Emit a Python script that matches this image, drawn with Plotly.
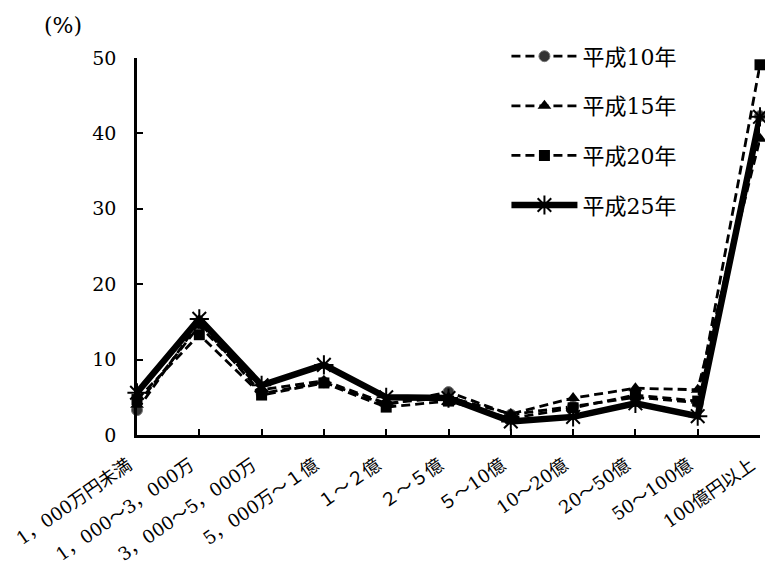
import plotly.graph_objects as go

# 資本金規模別の構成比（％）
categories = [
    "1，000万円未満", "1，000～3，000万", "3，000～5，000万", "5，000万～１億",
    "１～２億", "２～５億", "５～10億", "10～20億", "20～50億", "50～100億", "100億円以上",
]
h10 = [3.3, 15.0, 5.5, 7.0, 4.0, 5.7, 2.7, 3.8, 5.0, 4.3, 42.3]
h15 = [4.0, 14.5, 6.0, 7.2, 4.2, 5.0, 2.8, 4.9, 6.2, 6.0, 39.3]
h20 = [4.7, 13.3, 5.3, 6.9, 3.7, 4.5, 2.2, 3.6, 5.3, 4.5, 49.1]
h25 = [5.6, 15.4, 6.6, 9.3, 5.0, 4.9, 1.8, 2.4, 4.2, 2.5, 42.2]
y_ticks = [0, 10, 20, 30, 40, 50]

FONT = "DejaVu Serif, Noto Sans CJK JP, serif"
xs = list(range(len(categories)))

fig = go.Figure()
series = [
    ("平成10年", h10, dict(symbol="circle", size=11, color="#333333",
                          line=dict(color="#777777", width=1)), dict(width=2.8, dash="9px,5px")),
    ("平成15年", h15, dict(symbol="triangle-up", size=12, color="black"),
     dict(width=2.8, dash="9px,5px")),
    ("平成20年", h20, dict(symbol="square", size=11, color="black"),
     dict(width=2.8, dash="9px,5px")),
    ("平成25年", h25, dict(symbol="asterisk-open", size=16, color="black",
                          line=dict(color="black", width=2)), dict(width=6.5)),
]
for i, (name, vals, marker, line) in enumerate(series):
    fig.add_trace(go.Scatter(
        x=xs, y=vals, name=name, mode="lines+markers",
        marker=marker, line=dict(color="black", **line),
        cliponaxis=False, legendgroup=f"g{i}",
    ))

fig.update_layout(
    width=765, height=570,
    margin=dict(l=137, r=5, t=58, b=135, autoexpand=False),
    paper_bgcolor="white", plot_bgcolor="white",
    font=dict(family=FONT, size=16, color="black"),
    showlegend=True,
    legend=dict(
        x=0.593, y=1.06, xanchor="left", yanchor="top",
        font=dict(size=22, family=FONT), tracegroupgap=18,
        itemwidth=66, bgcolor="rgba(0,0,0,0)",
    ),
    xaxis=dict(
        range=[0, len(categories) - 1], tickmode="array", tickvals=xs,
        ticktext=categories, tickangle=-35, showgrid=False, zeroline=False,
        showline=True, linecolor="black", linewidth=2.5,
        ticks="inside", ticklen=6, tickwidth=1.5, tickcolor="black",
        tickfont=dict(size=18), ticklabeloverflow="allow", automargin=False,
        ticklabelstandoff=10, ticklabelshift=-9,
    ),
    yaxis=dict(
        range=[0, 50], tickmode="array", tickvals=y_ticks,
        showgrid=False, zeroline=False, automargin=False,
        showline=True, linecolor="black", linewidth=2.5,
        ticks="inside", ticklen=6, tickwidth=1.5, tickcolor="black",
        tickfont=dict(size=19), ticklabelstandoff=14,
    ),
    annotations=[dict(
        text="(%)", xref="paper", yref="paper", x=-0.152, y=1.085,
        xanchor="left", yanchor="middle", showarrow=False,
        font=dict(size=22),
    )],
)

fig.write_html("out.html")
